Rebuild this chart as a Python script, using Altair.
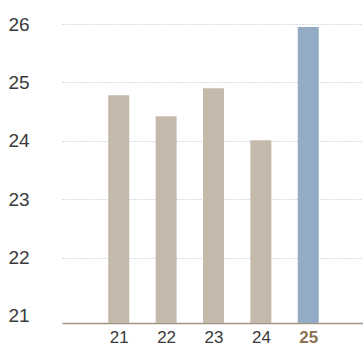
import altair as alt
import pandas as pd

years = [21, 22, 23, 24, 25]
values = [24.78, 24.42, 24.90, 24.01, 25.95]
highlight = [False, False, False, False, True]

df = pd.DataFrame({"year": years, "value": values, "hl": highlight})

FONT = "Liberation Sans"

bars = alt.Chart(df).mark_bar(size=21, clip=True).encode(
    x=alt.X(
        "year:Q",
        scale=alt.Scale(domain=[19.908, 26.05], nice=False, zero=False),
        axis=alt.Axis(
            values=years,
            format="d",
            title=None,
            grid=False,
            ticks=False,
            domain=True,
            domainColor="#a39482",
            domainWidth=1.3,
            labelFont=FONT,
            labelFontSize=17,
            labelPadding=6,
            labelColor={"condition": {"test": "datum.value == 25", "value": "#8c7153"}, "value": "#3a3a3a"},
            labelFontWeight={"condition": {"test": "datum.value == 25", "value": "bold"}, "value": "normal"},
        ),
    ),
    y=alt.Y(
        "value:Q",
        scale=alt.Scale(domain=[20.88, 26], nice=False, zero=False),
        axis=alt.Axis(
            values=[21, 22, 23, 24, 25, 26],
            title=None,
            ticks=False,
            domain=False,
            grid=True,
            gridColor="#c8d2de",
            gridDash=[1.5, 1.5],
            gridWidth=1,
            gridOpacity={"condition": {"test": "datum.value == 21", "value": 0}, "value": 1},
            labelFont=FONT,
            labelFontSize=19,
            labelColor="#3a3a3a",
            labelAlign="left",
            labelBaseline="middle",
            labelPadding=54,
        ),
    ),
    color=alt.Color(
        "hl:N",
        scale=alt.Scale(domain=[False, True], range=["#c4b9ab", "#93abc5"]),
        legend=None,
    ),
)

chart = bars.properties(
    width=301,
    height=299,
    autosize=alt.AutoSizeParams(type="none"),
    padding={"left": 62, "top": 24, "right": 0, "bottom": 24},
).configure_view(stroke=None)

chart.save("out.html", embed_options={"renderer": "svg", "actions": False})
